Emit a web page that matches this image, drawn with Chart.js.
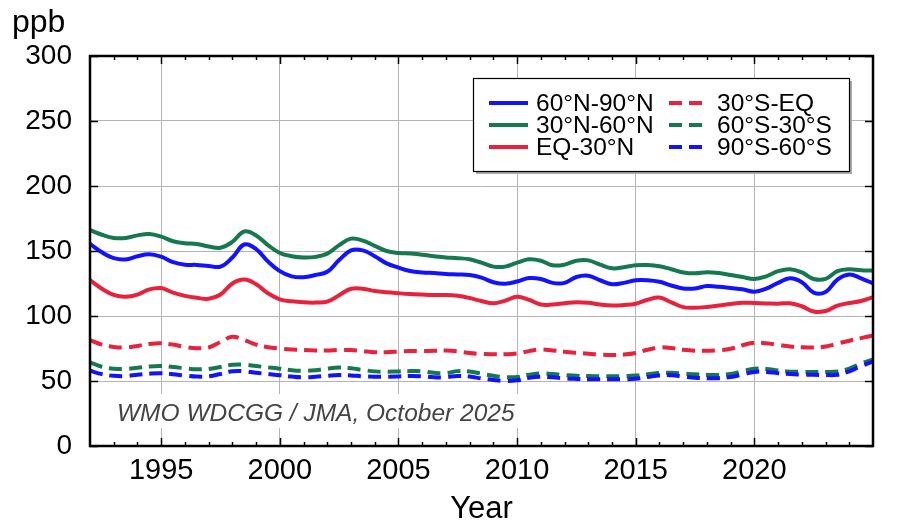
<!DOCTYPE html>
<html>
<head>
<meta charset="utf-8">
<title>Zonal mean mole fraction</title>
<script src="https://cdn.jsdelivr.net/npm/chart.js@4.4.1/dist/chart.umd.min.js"></script>
<style>
  html, body { margin: 0; padding: 0; background: #fff; }
  #wrap { width: 900px; height: 531px; }
</style>
</head>
<body>
<div id="wrap"><canvas id="chart" width="900" height="531"></canvas></div>
<script>
// Data (half-year steps)
const years = [
    1992, 1992.5, 1993, 1993.5, 1994, 1994.5, 1995, 1995.5, 1996, 1996.5,
    1997, 1997.5, 1998, 1998.5, 1999, 1999.5, 2000, 2000.5, 2001, 2001.5,
    2002, 2002.5, 2003, 2003.5, 2004, 2004.5, 2005, 2005.5, 2006, 2006.5,
    2007, 2007.5, 2008, 2008.5, 2009, 2009.5, 2010, 2010.5, 2011, 2011.5,
    2012, 2012.5, 2013, 2013.5, 2014, 2014.5, 2015, 2015.5, 2016, 2016.5,
    2017, 2017.5, 2018, 2018.5, 2019, 2019.5, 2020, 2020.5, 2021, 2021.5,
    2022, 2022.5, 2023, 2023.5, 2024, 2024.5, 2025
];

const n60to90 = [
    155.5, 149, 144.5, 143.5, 146, 147.5, 145.6, 141.5, 139.5, 139.3,
    138.5, 138, 145, 155, 151.5, 142, 134.5, 130.5, 129.8, 131.5,
    134, 143, 150.5, 150.5, 146, 140.5, 137.2, 134.6, 133.5, 133,
    132.4, 132, 131.5, 129.5, 126, 124.8, 126.5, 129.2, 128.5, 125.5,
    125.5, 130, 131, 127.5, 124.4, 125.5, 127.5, 127.5, 126.3, 123.5,
    121.2, 121.2, 123, 122.5, 121.5, 120.5, 118.7, 121, 125.5, 129,
    126, 118, 118.5, 128, 132, 129, 125
];

const n30to60 = [
    166, 162.5, 160, 160, 162, 163, 161, 157.5, 156, 155.4,
    153.5, 152.5, 157, 165, 162, 154.5, 148.5, 146, 145, 145.5,
    148, 154.5, 159.5, 158, 154, 150, 148.5, 148, 147.2, 146,
    145, 144.5, 143.6, 141, 138, 138, 141, 143.6, 142.5, 139,
    139.5, 142.5, 142.8, 139.5, 136.7, 137.5, 139, 139.2, 138.3, 136,
    133.5, 132.8, 133.6, 133, 131.5, 130, 128.5, 130.5, 134.5, 136,
    133.5, 128.5, 128.5, 134.5, 136, 135.2, 135
];

const eqTo30n = [
    127.5, 121, 116.2, 114.8, 116.5, 120.5, 121.5, 118, 115.5, 114,
    113.2, 116.5, 125, 128, 124.5, 117.5, 112.8, 111.3, 110.5, 110.3,
    111, 116, 121, 121, 119.2, 118.2, 117.5, 116.9, 116.5, 116.2,
    116.2, 115.5, 113.8, 111.5, 109.8, 111.8, 114.8, 112.5, 108.8, 108.8,
    109.8, 110.6, 110.2, 108.8, 108, 108.4, 109.4, 112.5, 114.2, 110.5,
    106.8, 106.4, 107, 108, 109.2, 110.2, 110, 109.7, 109.5, 109.8,
    107.5, 103.5, 103.8, 108, 110, 111.5, 114.5
];

const s30toEq = [
    81.5, 78, 76.2, 75.8, 77, 78.5, 79, 78, 76.2, 75.2,
    75.8, 80, 84, 81.5, 78, 76, 75, 74.3, 73.8, 73.5,
    73.5, 73.8, 73.8, 73, 72.2, 72.2, 72.6, 73, 73, 73.2,
    73.4, 72.8, 71.5, 70.8, 70.6, 70.6, 71.2, 73, 74.3, 73.5,
    72.5, 71.7, 71, 70.3, 70, 70.3, 71.5, 74, 75.8, 75.3,
    74, 73.3, 73.3, 73.6, 74.8, 77.5, 79.4, 79, 77.8, 76.6,
    76, 75.8, 76.5, 78.8, 81, 83, 85
];

const s60to30 = [
    64.4, 61, 59.5, 59.3, 60.2, 61.2, 61.5, 60.8, 59.8, 59,
    59.3, 60.8, 62.5, 62.6, 61.5, 60.5, 59.5, 58.3, 57.8, 58.3,
    59.5, 60.3, 59.8, 58.5, 57.4, 57.2, 57.4, 57.6, 57.5, 56.3,
    56, 57.6, 57.3, 55.6, 54, 53, 53, 54.8, 55.9, 55.3,
    54.6, 54, 53.8, 53.7, 53.7, 53.8, 54.2, 55.2, 56.2, 56.3,
    55.8, 55.1, 54.7, 54.7, 55.4, 57.5, 59.5, 59.3, 58, 57.2,
    57, 57, 57, 57.3, 59.5, 63.5, 66.7
];

const s90to60 = [
    57.9, 55.3, 54, 53.8, 54.8, 55.6, 55.9, 55.2, 54.2, 53.4,
    53.6, 55.4, 57.5, 57.5, 56.3, 55.4, 54.5, 53.4, 52.8, 53.2,
    54, 54.6, 54.3, 53.6, 53.3, 53.3, 53.5, 53.8, 53.6, 52.9,
    52.9, 53.9, 53.4, 52, 50.8, 50.1, 50.5, 52.4, 53.3, 52.8,
    52, 51.6, 51.4, 51.3, 51.3, 51.3, 51.8, 53, 54.3, 54.5,
    53.5, 52.5, 52.1, 52.2, 53, 55, 57, 57, 56, 55.3,
    55, 54.8, 54.6, 54.8, 57.5, 61.5, 64.9
];

const xTickYears = [1995, 2000, 2005, 2010, 2015, 2020];
const yTickValues = [0, 50, 100, 150, 200, 250, 300];

// Constants
const FONT = "'Liberation Sans', Arial, Helvetica, sans-serif";
const BLUE = '#1212ff';
const GREEN = '#15784f';
const RED = '#e8213d';
const DASH = [13, 7];
const NOTE = 'WMO WDCGG / JMA, October 2025';

function toPoints(values) {
    return years.map((yr, i) => ({ x: yr, y: values[i] }));
}

function makeSeries(label, values, color, dashed, order) {
    return {
        label: label,
        data: toPoints(values),
        borderColor: color,
        backgroundColor: color,
        borderWidth: 4,
        borderDash: dashed ? DASH : [],
        pointRadius: 0,
        tension: 0.4,
        fill: false,
        order: order
    };
}

// Frame, ticks, legend and texts
const framePlugin = {
    id: 'frame',
    afterDraw(chart) {
        const { ctx, chartArea: a } = chart;
        const xs = chart.scales.x;
        const ys = chart.scales.y;

        function seg(x1, y1, x2, y2) {
            ctx.beginPath();
            ctx.moveTo(x1, y1);
            ctx.lineTo(x2, y2);
            ctx.stroke();
        }

        ctx.save();

        // Credit note with white backing
        ctx.font = `italic 24.5px ${FONT}`;
        const noteW = ctx.measureText(NOTE).width;
        ctx.fillStyle = '#fff';
        ctx.fillRect(113, 394, noteW + 8, 34);
        ctx.fillStyle = '#444';
        ctx.textAlign = 'left';
        ctx.textBaseline = 'alphabetic';
        ctx.fillText(NOTE, 117, 421);

        // Tick marks inside the box
        ctx.strokeStyle = '#000';
        ctx.lineWidth = 1.5;
        for (let yr = 1993; yr < 2025; yr++) {
            const px = Math.round(xs.getPixelForValue(yr)) + 0.5;
            const len = yr % 5 === 0 ? 8 : 4;
            seg(px, a.bottom, px, a.bottom - len);
            seg(px, a.top, px, a.top + len);
        }
        yTickValues.forEach(v => {
            const py = Math.round(ys.getPixelForValue(v)) + 0.5;
            seg(a.left, py, a.left + 8, py);
            seg(a.right, py, a.right - 8, py);
        });

        // Box
        ctx.lineWidth = 2.5;
        ctx.strokeRect(a.left, a.top, a.right - a.left, a.bottom - a.top);

        // Legend
        const lx = 473, ly = 78, lw = 376, lh = 93;
        ctx.fillStyle = '#a8a8a8';
        ctx.fillRect(lx + 3, ly + 3, lw, lh);
        ctx.fillStyle = '#fff';
        ctx.fillRect(lx, ly, lw, lh);
        ctx.lineWidth = 1.2;
        ctx.strokeStyle = '#000';
        ctx.strokeRect(lx + 0.5, ly + 0.5, lw, lh);

        const rows = [103, 125, 147];
        const cols = [
            { x1: 489, x2: 528, tx: 536 },
            { x1: 669, x2: 703, tx: 717 }
        ];
        ctx.font = `24.5px ${FONT}`;
        ctx.textBaseline = 'middle';
        chart.data.datasets.forEach((ds, i) => {
            const c = cols[Math.floor(i / 3)];
            const ry = rows[i % 3];
            ctx.strokeStyle = ds.borderColor;
            ctx.lineWidth = 4;
            ctx.setLineDash(ds.borderDash);
            seg(c.x1, ry, c.x2, ry);
            ctx.setLineDash([]);
            ctx.fillStyle = '#000';
            ctx.fillText(ds.label, c.tx, ry + 1);
        });

        // Axis titles
        ctx.fillStyle = '#000';
        ctx.font = `32px ${FONT}`;
        ctx.textAlign = 'left';
        ctx.textBaseline = 'alphabetic';
        ctx.fillText('ppb', 12, 32);
        ctx.font = `31px ${FONT}`;
        ctx.textAlign = 'center';
        ctx.fillText('Year', (a.left + a.right) / 2, 518);

        ctx.restore();
    }
};

// Chart
function initializeChart() {
    const ctx = document.getElementById('chart').getContext('2d');
    new Chart(ctx, {
        type: 'line',
        data: {
            datasets: [
                makeSeries('60°N-90°N', n60to90, BLUE, false, 5),
                makeSeries('30°N-60°N', n30to60, GREEN, false, 4),
                makeSeries('EQ-30°N', eqTo30n, RED, false, 3),
                makeSeries('30°S-EQ', s30toEq, RED, true, 2),
                makeSeries('60°S-30°S', s60to30, GREEN, true, 1),
                makeSeries('90°S-60°S', s90to60, BLUE, true, 0)
            ]
        },
        options: {
            responsive: false,
            animation: false,
            devicePixelRatio: 1,
            layout: { padding: { left: 0, right: 27, top: 56, bottom: 0 } },
            plugins: {
                legend: { display: false },
                tooltip: { enabled: false }
            },
            scales: {
                x: {
                    type: 'linear',
                    min: 1992,
                    max: 2025,
                    afterBuildTicks: s => { s.ticks = xTickYears.map(v => ({ value: v })); },
                    afterFit: s => { s.height = 85; },
                    grid: { color: '#b4b4b4', lineWidth: 1, drawTicks: false },
                    border: { display: false },
                    ticks: {
                        color: '#000',
                        padding: 8,
                        maxRotation: 0,
                        font: { family: FONT, size: 29 },
                        callback: v => String(v)
                    }
                },
                y: {
                    min: 0,
                    max: 300,
                    afterBuildTicks: s => { s.ticks = yTickValues.map(v => ({ value: v })); },
                    afterFit: s => { s.width = 90; },
                    grid: { color: '#b4b4b4', lineWidth: 1, drawTicks: false },
                    border: { display: false },
                    ticks: {
                        color: '#000',
                        padding: 18,
                        font: { family: FONT, size: 28 }
                    }
                }
            }
        },
        plugins: [framePlugin]
    });
}

initializeChart();
</script>
</body>
</html>
